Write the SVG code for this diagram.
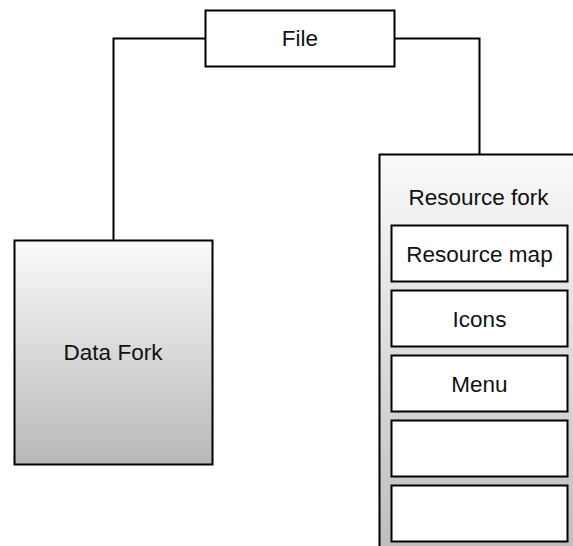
<svg xmlns="http://www.w3.org/2000/svg" width="573" height="546" viewBox="0 0 573 546">
<style>
.box{stroke:#000;stroke-width:2;}
.w{fill:#fff;}
.t{font-family:"Liberation Sans",Arial,Helvetica,sans-serif;font-size:22.5px;fill:#111;text-anchor:middle;}
.c{fill:none;stroke:#000;stroke-width:2;}
</style>
<defs>
<linearGradient id="g1" x1="0" y1="0" x2="0" y2="1">
<stop offset="0" stop-color="#fafafa"/>
<stop offset="1" stop-color="#b8b8b8"/>
</linearGradient>
<linearGradient id="g2" gradientUnits="userSpaceOnUse" x1="0" y1="154" x2="0" y2="560">
<stop offset="0" stop-color="#fafafa"/>
<stop offset="1" stop-color="#bcbcbc"/>
</linearGradient>
</defs>
<g id="connectors">
<path class="c" d="M205.5 38.5 H113.5 V240.5"/>
<path class="c" d="M394.5 38.5 H479.5 V154.5"/>
</g>
<g id="file">
<rect class="box w" x="205.5" y="10.5" width="189" height="56"/>
<text class="t" x="300" y="46">File</text>
</g>
<g id="data-fork">
<rect class="box" fill="url(#g1)" x="14.5" y="240.5" width="198" height="224"/>
<text class="t" x="113" y="359.5">Data Fork</text>
</g>
<g id="resource-fork">
<rect class="box" fill="url(#g2)" x="379.5" y="154.5" width="230" height="420"/>
<text class="t" x="478.5" y="205">Resource fork</text>
</g>
<g id="resource-map">
<rect class="box w" x="391.5" y="225.5" width="176" height="56"/>
<text class="t" x="479.5" y="261.5">Resource map</text>
</g>
<g id="icons">
<rect class="box w" x="391.5" y="290.5" width="176" height="56"/>
<text class="t" x="479.5" y="326.5">Icons</text>
</g>
<g id="menu">
<rect class="box w" x="391.5" y="355.5" width="176" height="56"/>
<text class="t" x="479.5" y="391.5">Menu</text>
</g>
<g id="empty-1">
<rect class="box w" x="391.5" y="420.5" width="176" height="56"/>
</g>
<g id="empty-2">
<rect class="box w" x="391.5" y="485.5" width="176" height="56"/>
</g>
</svg>
